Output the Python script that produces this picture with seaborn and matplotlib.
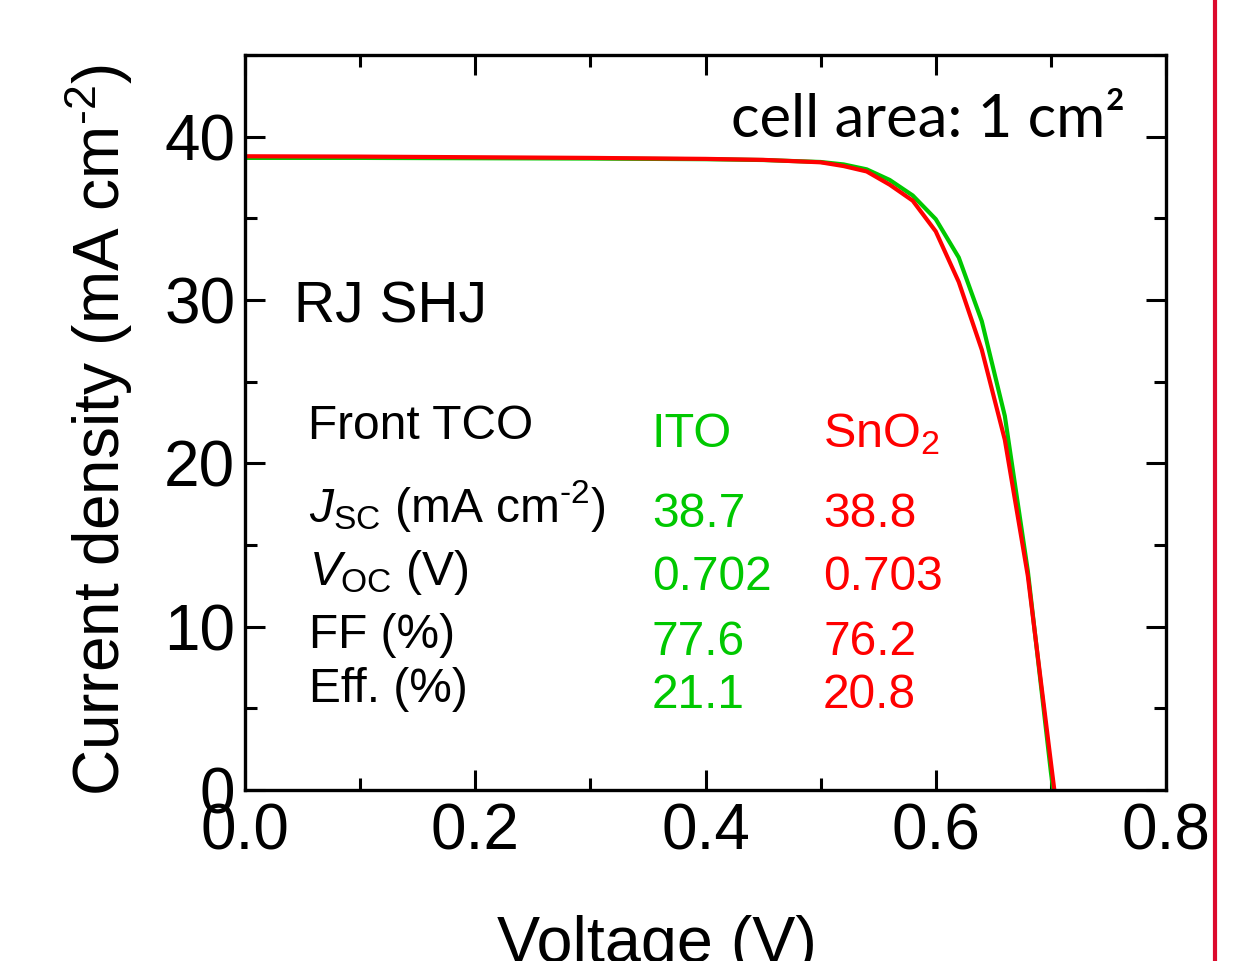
import matplotlib
matplotlib.use("Agg")
import matplotlib.pyplot as plt
from matplotlib.lines import Line2D
from matplotlib.ticker import MultipleLocator
import numpy as np
import pandas as pd
import seaborn as sns

# J-V curves of the two rear-junction SHJ cells
voltage_ito = [0.00, 0.10, 0.20, 0.30, 0.40, 0.45, 0.50, 0.52, 0.54, 0.56,
               0.58, 0.60, 0.62, 0.64, 0.66, 0.68, 0.70, 0.702]
current_ito = [38.70, 38.70, 38.68, 38.66, 38.62, 38.57, 38.45, 38.30, 38.00, 37.35,
               36.40, 34.95, 32.60, 28.70, 22.90, 13.40, 1.10, 0.00]

voltage_sno2 = [0.00, 0.10, 0.20, 0.30, 0.40, 0.45, 0.50, 0.52, 0.54, 0.56,
                0.58, 0.60, 0.62, 0.64, 0.66, 0.68, 0.70, 0.703]
current_sno2 = [38.80, 38.78, 38.74, 38.70, 38.64, 38.58, 38.43, 38.20, 37.87, 37.06,
                36.08, 34.20, 31.10, 26.95, 21.44, 13.10, 1.70, 0.00]

series_names = ["ITO", "SnO2"]
series_colors = {"ITO": "#00c800", "SnO2": "#ff0000"}

# Table of cell parameters
param_labels = [r"$\it{J}_{\rm SC}$ (mA cm$^{\text{-2}}$)", r"$\it{V}_{\rm OC}$ (V)",
                "FF (%)", "Eff. (%)"]
ito_params = ["38.7", "0.702", "77.6", "21.1"]
sno2_params = ["38.8", "0.703", "76.2", "20.8"]

x_ticks = [0.0, 0.2, 0.4, 0.6, 0.8]
y_ticks = [0, 10, 20, 30, 40]

sns.set_theme(style="ticks")
plt.rcParams["font.family"] = ["Liberation Sans", "DejaVu Sans"]
plt.rcParams["mathtext.fontset"] = "custom"
plt.rcParams["mathtext.rm"] = "Liberation Sans"
plt.rcParams["mathtext.it"] = "Liberation Sans:italic"
plt.rcParams["mathtext.bf"] = "Liberation Sans:bold"
for key in ["text.color", "axes.labelcolor", "xtick.color", "ytick.color",
            "axes.edgecolor"]:
    plt.rcParams[key] = "black"

df = pd.concat([
    pd.DataFrame({"V": voltage_ito, "J": current_ito, "cell": "ITO"}),
    pd.DataFrame({"V": voltage_sno2, "J": current_sno2, "cell": "SnO2"}),
], ignore_index=True)

fig = plt.figure(figsize=(12.48, 9.61), dpi=100)
fig.patch.set_facecolor("white")
ax = fig.add_axes([245 / 1248, 1 - 790 / 961, 921 / 1248, 735 / 961])

sns.lineplot(data=df, x="V", y="J", hue="cell", hue_order=series_names,
             palette=series_colors, sort=False, estimator=None,
             linewidth=3.0, legend=False, ax=ax)

ax.set_xlim(0, 0.8)
ax.set_ylim(0, 45)
ax.set_xticks(x_ticks)
ax.set_xticklabels([f"{t:.1f}" for t in x_ticks])
ax.set_yticks(y_ticks)
ax.set_yticklabels([str(t) for t in y_ticks])
ax.xaxis.set_minor_locator(MultipleLocator(0.1))
ax.yaxis.set_minor_locator(MultipleLocator(5))

for side in ["top", "right", "bottom", "left"]:
    ax.spines[side].set_visible(True)
    ax.spines[side].set_linewidth(2.4)
    ax.spines[side].set_color("black")

ax.tick_params(which="both", direction="in", top=True, right=True,
               color="black", width=2.2, labelcolor="black")
ax.tick_params(which="major", length=14.4)
ax.tick_params(which="minor", length=8.6)
ax.tick_params(axis="x", which="major", labelsize=46, pad=9)
ax.tick_params(axis="y", which="major", labelsize=46, pad=7)

ax.set_xlabel("Voltage (V)", fontsize=46.5)
ax.set_ylabel(r"Current density (mA cm$^{\text{-2}}$)", fontsize=46)
ax.xaxis.set_label_coords(0.447, -0.170)
ax.yaxis.set_label_coords(-0.119, 0.49)

tr = ax.transAxes
ax.text(0.9555, 0.888, "cell area: 1 cm\u00b2", transform=tr, fontsize=43,
        family=["Lato", "DejaVu Sans"], ha="right", va="baseline")
ax.text(0.053, 0.6367, "RJ SHJ", transform=tr, fontsize=41,
        ha="left", va="baseline")
ax.text(0.068, 0.4776, "Front TCO", transform=tr, fontsize=34.5,
        ha="left", va="baseline")
ax.text(0.4419, 0.4667, "ITO", transform=tr, fontsize=35,
        color=series_colors["ITO"], ha="left", va="baseline")
ax.text(0.6276, 0.4667, r"SnO$_2$", transform=tr, fontsize=35,
        color=series_colors["SnO2"], ha="left", va="baseline")

label_y = [0.3646, 0.2789, 0.1932, 0.1197]
value_y = [0.3578, 0.2721, 0.1837, 0.1116]
for lab, ly in zip(param_labels, label_y):
    ax.text(0.070, ly, lab, transform=tr, fontsize=34.5, ha="left", va="baseline")
for v_ito, v_sno2, vy in zip(ito_params, sno2_params, value_y):
    ax.text(0.4419, vy, v_ito, transform=tr, fontsize=34.5,
            color=series_colors["ITO"], ha="left", va="baseline")
    ax.text(0.6276, vy, v_sno2, transform=tr, fontsize=34.5,
            color=series_colors["SnO2"], ha="left", va="baseline")

# Panel divider on the right
fig.add_artist(Line2D([1215 / 1248, 1215 / 1248], [0, 1], transform=fig.transFigure,
                      color="#dc0a2d", linewidth=3.0))

fig.savefig("out.png", dpi=100, facecolor="white")
